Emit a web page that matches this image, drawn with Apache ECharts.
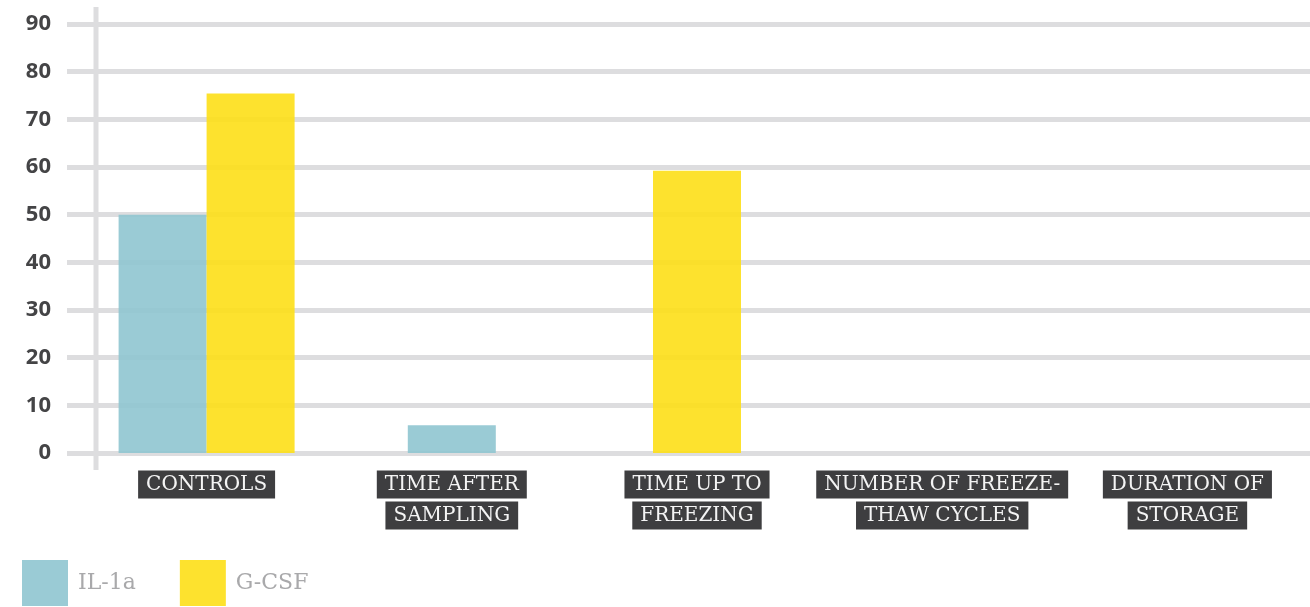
<!DOCTYPE html>
<html>
<head>
<meta charset="utf-8">
<script src="https://cdn.jsdelivr.net/npm/echarts@6/dist/echarts.min.js"></script>
<style>
  html, body { margin: 0; padding: 0; background: #ffffff; }
  #chart { width: 1310px; height: 607px; }
</style>
</head>
<body>
<div id="chart"></div>
<script>
// ---- data ----
var categories = ['CONTROLS', 'TIME AFTER\nSAMPLING', 'TIME UP TO\nFREEZING', 'NUMBER OF FREEZE-\nTHAW CYCLES', 'DURATION OF\nSTORAGE'];
var seriesNames = ['IL-1a', 'G-CSF'];
var il1a = [50, 5.8, 0, 0, 0];
var gcsf = [75.4, 0, 59.2, 0, 0];
var yTicks = [0, 10, 20, 30, 40, 50, 60, 70, 80, 90];

var colors = ['#8fc5d0', '#fddf17'];
var gridColor = '#dddddf';

// bars in categories where both series have a value sit side by side;
// a lone value is centred on its category
function paired(own, other) {
  return own.map(function (v, i) { return (v > 0 && other[i] > 0) ? v : null; });
}
function solo(own, other) {
  return own.map(function (v, i) { return (v > 0 && !(other[i] > 0)) ? v : null; });
}

var chart = echarts.init(document.getElementById('chart'), null, { renderer: 'canvas' });

var yMin = yTicks[0], yMax = yTicks[yTicks.length - 1], yStep = yTicks[1] - yTicks[0];

function labelFmt(v) {
  return v.split('\n').map(function (l) { return '{b|' + l + '}{s|}'; }).join('\n');
}

var barCommon = {
  type: 'bar',
  barWidth: 88,
  yAxisIndex: 1,
  itemStyle: { opacity: 0.9 },
  emphasis: { disabled: true }
};

var option = {
  backgroundColor: '#ffffff',
  animation: false,
  color: colors,
  legend: {
    data: seriesNames,
    left: 22,
    top: 560,
    padding: 0,
    icon: 'rect',
    itemWidth: 46,
    itemHeight: 46,
    itemGap: 44,
    textStyle: { color: '#a9a9ab', fontFamily: 'DejaVu Serif', fontSize: 22, padding: [0, 0, 0, 5] }
  },
  grid: [
    { left: 67, right: 0, top: 24, bottom: 154 },
    { left: 84, right: 0, top: 24, bottom: 154 }
  ],
  xAxis: [
    { type: 'category', gridIndex: 0, data: categories, show: false },
    {
      type: 'category', gridIndex: 1, data: categories,
      axisLine: { show: false }, axisTick: { show: false },
      axisLabel: {
        interval: 0, margin: 16,
        formatter: labelFmt,
        rich: {
          b: {
            color: '#f4f4f4', backgroundColor: '#3e3e40',
            fontFamily: 'DejaVu Serif', fontSize: 20,
            padding: [0, 8, 0, 8], lineHeight: 28, height: 28
          },
          s: { lineHeight: 31, height: 31, width: 0 }
        }
      }
    },
    { type: 'category', gridIndex: 1, data: categories, show: false }
  ],
  yAxis: [
    {
      type: 'value', gridIndex: 0, min: yMin, max: yMax, interval: yStep,
      axisLine: { show: false }, axisTick: { show: false },
      splitLine: { show: true, lineStyle: { color: gridColor, width: 5 } },
      axisLabel: { margin: 16, color: '#444446', fontFamily: 'Open Sans', fontWeight: 'bold', fontSize: 22 }
    },
    {
      type: 'value', gridIndex: 1, min: yMin, max: yMax, interval: yStep, show: false,
      splitLine: { show: false }
    }
  ],
  graphic: [
    {
      type: 'line', z: -1,
      shape: { x1: 96, y1: 7, x2: 96, y2: 470 },
      style: { stroke: gridColor, lineWidth: 5 }
    }
  ],
  series: [
    Object.assign({}, barCommon, { name: seriesNames[0], xAxisIndex: 1, barGap: '0%', data: paired(il1a, gcsf) }),
    Object.assign({}, barCommon, { name: seriesNames[1], xAxisIndex: 1, barGap: '0%', data: paired(gcsf, il1a) }),
    Object.assign({}, barCommon, { name: seriesNames[0], xAxisIndex: 2, barGap: '-100%', data: solo(il1a, gcsf) }),
    Object.assign({}, barCommon, { name: seriesNames[1], xAxisIndex: 2, barGap: '-100%', data: solo(gcsf, il1a) })
  ]
};

chart.setOption(option);
</script>
</body>
</html>
